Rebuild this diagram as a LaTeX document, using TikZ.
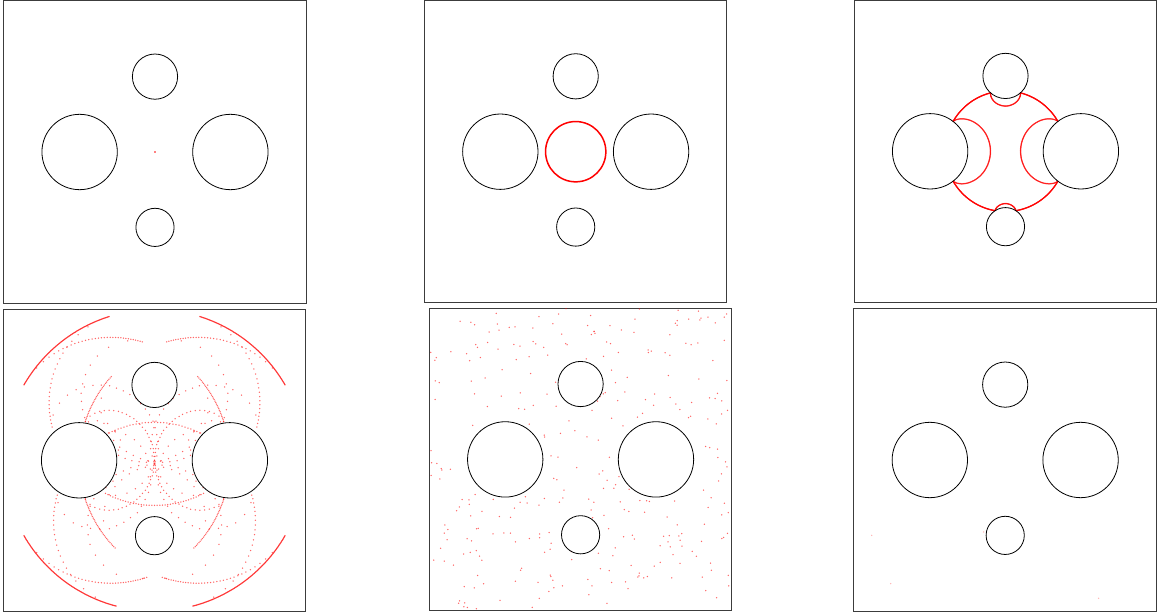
\documentclass[tikz,border=0pt]{standalone}
\usepackage{xcolor}
\definecolor{Ray}{HTML}{FF0000}
\definecolor{Wall}{HTML}{3C3C3C}
\colorlet{ray}{Ray}
\colorlet{wall}{Wall}
\usepackage{tikz}
\usetikzlibrary{calc}

\tikzset{obstacle/.style={draw=black,line width=0.8pt},
  wallbox/.style={draw=wall,line width=1pt},
  raydot/.style={fill=ray,opacity=0.6},
  front/.style={draw=ray,line width=1.5pt}}

\newcommand\obstacles{\draw[obstacle] (-0.75,0) circle (0.375) (0.75,0) circle (0.375) (0,-0.75) circle (0.225) (0,0.75) circle (0.19);}
\newcommand\wallframe{\draw[wallbox] (-1.505,-1.505) rectangle (1.505,1.505);}

% one ray against one obstacle: centre #1,#2, radius #3
\newif\ifhit
\newcommand\testobs[3]{%
  \pgfmathsetmacro\rdx{\rx-(#1)}\pgfmathsetmacro\rdy{\ry-(#2)}%
  \pgfmathsetmacro\rb{\ux*\rdx+\uy*\rdy}%
  \pgfmathsetmacro\rdisc{\rb*\rb-(\rdx*\rdx+\rdy*\rdy-(#3)*(#3))}%
  \ifdim\rb pt<0pt \ifdim\rdisc pt>0pt
    \pgfmathsetmacro\rtd{-\rb-sqrt(\rdisc)}%
    \ifdim\rtd pt<\best pt \ifdim\rtd pt>0.00001pt
      \let\best\rtd\def\obx{#1}\def\oby{#2}\def\obr{#3}\hittrue
    \fi\fi
  \fi\fi}
% all rays from the centre after time #1
\newcommand\traceall[1]{%
  \foreach \k in {1,...,1440}{%
    \pgfmathsetmacro\ux{cos(\k*0.25)}\pgfmathsetmacro\uy{sin(\k*0.25)}%
    \def\rx{0}\def\ry{0}\def\trem{#1}%
    \loop
      \hitfalse\let\best\trem
      \testobs{-0.75}{0}{0.375}\testobs{0.75}{0}{0.375}\testobs{0}{-0.75}{0.225}\testobs{0}{0.75}{0.19}%
      \pgfmathsetmacro\rx{\rx+\best*\ux}\pgfmathsetmacro\ry{\ry+\best*\uy}%
      \pgfmathsetmacro\trem{\trem-\best}%
    \ifhit
      \pgfmathsetmacro\nrx{(\rx-\obx)/\obr}\pgfmathsetmacro\nry{(\ry-\oby)/\obr}%
      \pgfmathsetmacro\dotun{\ux*\nrx+\uy*\nry}%
      \pgfmathsetmacro\ux{\ux-2*\dotun*\nrx}\pgfmathsetmacro\uy{\uy-2*\dotun*\nry}%
    \repeat
    \fill[raydot] (\rx,\ry) circle (0.75pt);
  }}

\begin{document}
\begin{tikzpicture}[x=1pt,y=-1pt]
\useasboundingbox[fill=white] (0,0) rectangle (1157,612);
% top row
\begin{scope}[shift={(155,152)},x=100.5pt,y=-100.5pt]
\wallframe
\fill[ray] (0,0) circle (0.9pt);
\obstacles
\end{scope}
\begin{scope}[shift={(575.7,151.7)},x=100.5pt,y=-100.5pt]
\wallframe
\draw[front] (0,0) circle (0.3);
\obstacles
\end{scope}
\begin{scope}[shift={(1005.5,151.3)},x=100.5pt,y=-100.5pt]
\wallframe
\traceall{0.6}
\obstacles
\end{scope}
% bottom row
\begin{scope}[shift={(154.5,460.3)},x=100.5pt,y=-100.5pt]
\wallframe
\traceall{1.5}
\obstacles
\end{scope}
\begin{scope}[shift={(580.6,459.4)},x=100.5pt,y=-100.5pt]
\wallframe
\pgfmathsetseed{11}
\foreach \i in {1,...,340}{%
  \pgfmathsetmacro\qx{1.5*rand}\pgfmathsetmacro\qy{1.5*rand}%
  \pgfmathtruncatemacro\keep{((\qx+0.75)^2+(\qy)^2>0.141)*((\qx-0.75)^2+(\qy)^2>0.141)*((\qx)^2+(\qy+0.75)^2>0.051)*((\qx)^2+(\qy-0.75)^2>0.036)}%
  \ifnum\keep=1 \fill[raydot] (\qx,\qy) circle (0.75pt);\fi}
\obstacles
\end{scope}
\begin{scope}[shift={(1005.2,460)},x=100.5pt,y=-100.5pt]
\wallframe
\foreach \p in {(-1.328,0.749),(-1.139,1.231),(-0.214,0.716),(0.930,1.376)}
  \fill[raydot,opacity=0.3] \p circle (0.75pt);
\obstacles
\end{scope}
\end{tikzpicture}
\end{document}
